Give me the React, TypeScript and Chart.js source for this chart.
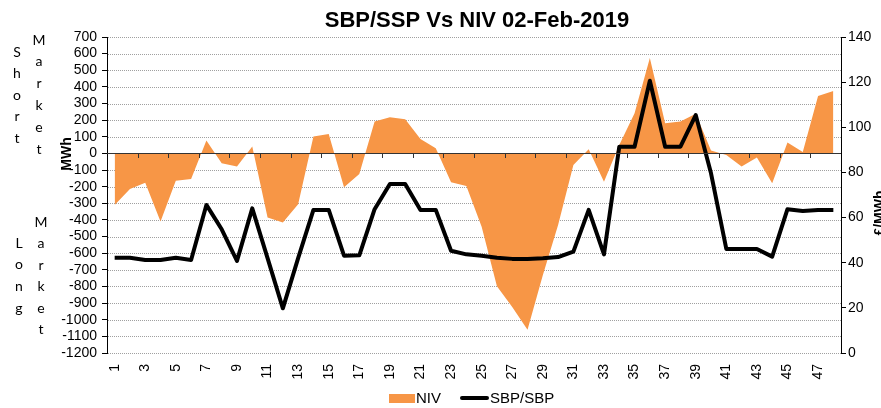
import React, { useEffect, useRef } from 'react';
import { Chart, registerables } from 'chart.js';

Chart.register(...registerables);

const TITLE = 'SBP/SSP Vs NIV 02-Feb-2019';

const periods: string[] = [
  '1', '2', '3', '4', '5', '6', '7', '8', '9', '10', '11', '12',
  '13', '14', '15', '16', '17', '18', '19', '20', '21', '22', '23', '24',
  '25', '26', '27', '28', '29', '30', '31', '32', '33', '34', '35', '36',
  '37', '38', '39', '40', '41', '42', '43', '44', '45', '46', '47', '48',
];

// Net Imbalance Volume (MWh) - left axis
const nivValues: number[] = [
  -310, -214, -176, -410, -164, -154, 77, -59, -79, 41, -386, -415,
  -306, 101, 117, -204, -124, 192, 218, 206, 86, 31, -173, -196,
  -441, -798, -923, -1060, -732, -431, -69, 25, -170, 51, 242, 573,
  182, 192, 238, 17, -9, -79, -25, -180, 65, 9, 346, 376,
];

// System buy price (£/MWh) - right axis
const sbpValues: number[] = [
  42.2, 42.2, 41.2, 41.2, 42.2, 41.2, 65.6, 54.8, 40.8, 64.1, 42.0, 19.8,
  42.0, 63.4, 63.4, 43.1, 43.3, 63.7, 74.9, 74.9, 63.4, 63.4, 45.3, 43.7,
  43.1, 42.2, 41.7, 41.7, 42.0, 42.5, 44.9, 63.4, 43.7, 91.4, 91.4, 120.6,
  91.4, 91.4, 105.4, 79.6, 46.1, 46.1, 46.1, 42.7, 63.7, 62.9, 63.4, 63.4,
];

const seriesNames: string[] = ['NIV', 'SBP/SBP'];
const shortLabel: string[] = ['S', 'h', 'o', 'r', 't'];
const longLabel: string[] = ['L', 'o', 'n', 'g'];
const marketLabel: string[] = ['M', 'a', 'r', 'k', 'e', 't'];

const ORANGE = '#F79646';
const FONT = "'Liberation Sans', Arial, sans-serif";
const SIDE_FONT = "Lato, 'Open Sans', sans-serif";

const decorPlugin = {
  id: 'decor',
  beforeDatasetsDraw(chart: any) {
    const { ctx, chartArea, scales } = chart;
    ctx.save();
    ctx.strokeStyle = '#a0a0a0';
    ctx.lineWidth = 1;
    ctx.setLineDash([1, 1]);
    ctx.beginPath();
    scales.y.ticks.forEach((t: any) => {
      const y = Math.round(scales.y.getPixelForValue(t.value)) + 0.5;
      ctx.moveTo(chartArea.left + 1, y);
      ctx.lineTo(chartArea.right, y);
    });
    ctx.stroke();
    ctx.restore();
  },
  afterDatasetsDraw(chart: any) {
    const { ctx, chartArea, scales } = chart;
    const y0 = scales.y.getPixelForValue(0);
    const n = periods.length;
    const w = (chartArea.right - chartArea.left) / n;
    ctx.save();
    ctx.strokeStyle = '#333333';
    ctx.lineWidth = 1;
    ctx.beginPath();
    ctx.moveTo(chartArea.left, Math.round(y0) + 0.5);
    ctx.lineTo(chartArea.right, Math.round(y0) + 0.5);
    for (let k = 2; k < n; k += 2) {
      const x = Math.round(chartArea.left + k * w) + 0.5;
      ctx.moveTo(x, Math.round(y0));
      ctx.lineTo(x, Math.round(y0) + 5);
    }
    ctx.stroke();
    ctx.restore();
  },
  afterDraw(chart: any) {
    const { ctx } = chart;
    ctx.save();
    ctx.fillStyle = '#000';
    // title
    ctx.font = `bold 22px ${FONT}`;
    ctx.textAlign = 'center';
    ctx.textBaseline = 'alphabetic';
    ctx.fillText(TITLE, 477, 27);

    // side labels
    ctx.font = `14px ${SIDE_FONT}`;
    ctx.textBaseline = 'middle';
    shortLabel.forEach((c, i) => ctx.fillText(c, 17, 52 + i * 21.6));
    marketLabel.forEach((c, i) => ctx.fillText(c, 39, 40 + i * 21.8));
    longLabel.forEach((c, i) => ctx.fillText(c, 19, 243 + i * 21.7));
    marketLabel.forEach((c, i) => ctx.fillText(c, 41, 222 + i * 21.5));

    // axis titles
    ctx.font = `bold 14px ${FONT}`;
    ctx.save();
    ctx.translate(67, 154);
    ctx.rotate(-Math.PI / 2);
    ctx.textAlign = 'center';
    ctx.textBaseline = 'middle';
    ctx.fillText('MWh', 0, 0);
    ctx.restore();

    ctx.save();
    ctx.translate(873, 213);
    ctx.rotate(-Math.PI / 2);
    ctx.textAlign = 'center';
    ctx.textBaseline = 'top';
    ctx.fillText('£/MWh', 0, 0);
    ctx.restore();

    // legend
    ctx.fillStyle = ORANGE;
    ctx.fillRect(389, 394, 26, 9);
    ctx.fillStyle = '#000';
    ctx.font = `15px ${FONT}`;
    ctx.textAlign = 'left';
    ctx.textBaseline = 'middle';
    ctx.fillText(seriesNames[0], 416, 399);
    ctx.strokeStyle = '#000';
    ctx.lineWidth = 4;
    ctx.lineCap = 'round';
    ctx.beginPath();
    ctx.moveTo(462, 398);
    ctx.lineTo(487, 398);
    ctx.stroke();
    ctx.fillText(seriesNames[1], 490, 399);
    ctx.restore();
  },
};

export default function App() {
  const canvasRef = useRef<HTMLCanvasElement | null>(null);

  useEffect(() => {
    if (!canvasRef.current) return;
    Chart.defaults.font.family = FONT;
    const chart = new Chart(canvasRef.current, {
      type: 'line',
      data: {
        labels: periods,
        datasets: [
          {
            label: seriesNames[1],
            data: sbpValues,
            yAxisID: 'y2',
            borderColor: '#000000',
            borderWidth: 4,
            borderJoinStyle: 'round',
            pointRadius: 0,
            fill: false,
            tension: 0,
            order: 1,
          },
          {
            label: seriesNames[0],
            data: nivValues,
            yAxisID: 'y',
            borderColor: 'rgba(0,0,0,0)',
            borderWidth: 0,
            backgroundColor: ORANGE,
            pointRadius: 0,
            fill: 'origin',
            tension: 0,
            order: 2,
          },
        ],
      },
      options: {
        responsive: false,
        animation: false,
        devicePixelRatio: 1,
        layout: { padding: { left: 0, right: 0, top: 37, bottom: 0 } },
        plugins: {
          legend: { display: false },
          tooltip: { enabled: false },
          title: { display: false },
        },
        scales: {
          x: {
            type: 'category',
            offset: true,
            grid: { display: false, drawTicks: false },
            border: { display: false },
            ticks: {
              autoSkip: false,
              maxRotation: 90,
              minRotation: 90,
              padding: 11,
              color: '#000',
              font: { size: 14 },
              callback: (_v: any, i: number) => (i % 2 === 0 ? periods[i] : ''),
            },
            afterFit: (s: any) => { s.height = 55; },
          },
          y: {
            position: 'left',
            min: -1200,
            max: 700,
            ticks: {
              stepSize: 100,
              autoSkip: false,
              padding: 5,
              color: '#000',
              font: { size: 14 },
              callback: (v: any) => String(v),
            },
            grid: {
              drawOnChartArea: false,
              drawTicks: true,
              tickLength: 5,
              tickColor: '#000',
              color: '#000',
            },
            border: { display: true, color: '#000', width: 1 },
            afterFit: (s: any) => { s.width = 107; },
          },
          y2: {
            position: 'right',
            min: 0,
            max: 140,
            ticks: {
              stepSize: 20,
              autoSkip: false,
              padding: 2,
              color: '#000',
              font: { size: 14 },
              callback: (v: any) => String(v),
            },
            grid: {
              drawOnChartArea: false,
              drawTicks: true,
              tickLength: 5,
              tickColor: '#000',
              color: '#000',
            },
            border: { display: true, color: '#000', width: 1 },
            afterFit: (s: any) => { s.width = 40; },
          },
        },
      },
      plugins: [decorPlugin],
    } as any);
    return () => chart.destroy();
  }, []);

  return (
    <div style={{ position: 'fixed', left: 0, top: 0, width: 881, height: 408, background: '#fff' }}>
      <canvas ref={canvasRef} width={881} height={408} style={{ display: 'block' }} />
    </div>
  );
}
